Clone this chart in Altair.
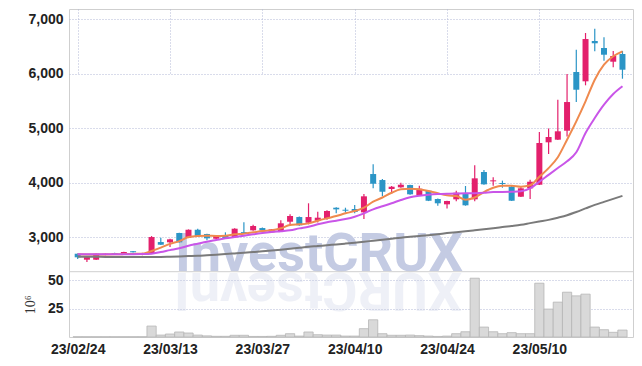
import altair as alt
import pandas as pd

# ---- data ----
tick_labels = ["23/02/24", "23/03/13", "23/03/27", "23/04/10", "23/04/24", "23/05/10"]

opens = [2699, 2589, 2589, 2675, 2712, 2682, 2745, 2675, 2699, 2913,
         2908, 3079, 2992, 3139, 3060, 2974, 3029, 2999, 3095, 3128,
         3170, 3091, 3115, 3286, 3372, 3267, 3304, 3348, 3543, 3506,
         3519, 3458, 4161, 4051, 3886, 3917, 3959, 3776, 3855, 3703,
         3605, 3697, 3794, 3697, 4198, 4027, 3996, 3929, 3745, 3899,
         3965, 4743, 4791, 4956, 6033, 5862, 6602, 6473, 6222, 6363]
highs = [2705, 2645, 2705, 2705, 2718, 2736, 2750, 2715, 3023, 2992,
         2974, 3085, 3145, 3158, 3066, 3035, 3091, 3165, 3275, 3231,
         3180, 3152, 3312, 3422, 3380, 3624, 3470, 3495, 3550, 3543,
         3592, 3794, 4339, 4070, 3940, 4002, 3965, 3947, 3862, 3710,
         3672, 3855, 3941, 4321, 4235, 4100, 4040, 3960, 3930, 4056,
         4932, 4997, 5525, 5995, 6442, 6749, 6828, 6670, 6420, 6420]
lows = [2600, 2546, 2585, 2670, 2685, 2680, 2720, 2670, 2695, 2860,
        2822, 2905, 2985, 3012, 2944, 2970, 2975, 2995, 3070, 3120,
        3122, 3085, 3110, 3225, 3210, 3238, 3270, 3320, 3440, 3455,
        3440, 3336, 3899, 3760, 3805, 3910, 3780, 3770, 3665, 3580,
        3530, 3660, 3580, 3660, 3965, 3947, 3910, 3665, 3740, 3705,
        3960, 4528, 4785, 4850, 5482, 5789, 6413, 6240, 6120, 5910]
closes = [2633, 2638, 2699, 2699, 2690, 2730, 2725, 2712, 3005, 2864,
          2963, 2908, 3139, 3018, 2981, 3029, 2985, 3158, 3075, 3207,
          3128, 3146, 3257, 3391, 3220, 3372, 3360, 3482, 3513, 3488,
          3464, 3752, 3983, 3836, 3928, 3965, 3789, 3892, 3671, 3624,
          3666, 3818, 3587, 4082, 3972, 4045, 3978, 3671, 3899, 4020,
          4730, 4840, 4945, 5482, 5708, 6638, 6560, 6350, 6327, 6075]

ma_short = [2688, 2685, 2683, 2685, 2688, 2692, 2696, 2700, 2750, 2810,
            2880, 2930, 3005, 3025, 3030, 3025, 3029, 3055, 3067, 3091,
            3115, 3128, 3165, 3225, 3238, 3256, 3304, 3348, 3390, 3440,
            3482, 3543, 3653, 3730, 3818, 3880, 3892, 3880, 3849, 3807,
            3770, 3758, 3690, 3730, 3831, 3910, 3947, 3947, 3929, 3954,
            4112, 4270, 4470, 4791, 5128, 5495, 5892, 6167, 6321, 6413]
ma_mid = [2688, 2688, 2688, 2690, 2690, 2690, 2690, 2692, 2699, 2730,
          2765, 2798, 2846, 2883, 2919, 2950, 2981, 3005, 3029, 3055,
          3078, 3097, 3112, 3128, 3164, 3194, 3238, 3275, 3304, 3335,
          3378, 3440, 3513, 3570, 3624, 3684, 3734, 3763, 3782, 3794,
          3800, 3803, 3807, 3810, 3818, 3831, 3831, 3835, 3845, 3899,
          4020, 4146, 4271, 4394, 4560, 4914, 5189, 5433, 5629, 5771]
ma_long = [2645, 2643, 2642, 2640, 2640, 2639, 2638, 2638, 2638, 2640,
           2645, 2650, 2655, 2660, 2670, 2680, 2692, 2705, 2718, 2730,
           2742, 2757, 2773, 2790, 2808, 2826, 2840, 2855, 2870, 2885,
           2900, 2918, 2938, 2957, 2975, 2992, 3010, 3025, 3040, 3058,
           3078, 3095, 3110, 3128, 3147, 3168, 3188, 3208, 3230, 3260,
           3290, 3320, 3360, 3405, 3465, 3530, 3595, 3650, 3705, 3760]

volume = [0.2, 0.2, 0.2, 0.2, 0.2, 0.2, 0.2, 0.2, 9.6, 1.7,
          2.6, 4.4, 3.5, 1.7, 1.0, 0.6, 0.6, 1.5, 1.5, 0.5,
          0.5, 0.6, 1.5, 2.9, 0.8, 4.4, 2.0, 1.7, 1.7, 0.8,
          0.8, 7.3, 15.1, 2.9, 1.5, 1.5, 1.7, 1.2, 0.8, 0.5,
          0.8, 2.9, 4.6, 51.6, 8.7, 4.6, 2.9, 3.8, 2.9, 2.9,
          47.2, 24.5, 30.6, 39.3, 36.1, 37.6, 8.7, 6.4, 4.1, 6.1]

series_names = ["MA short", "MA mid", "MA long"]
series_colors = ["#ef8a4e", "#c955e8", "#7a7a7a"]
up_color = "#e3206c"
down_color = "#2b95c6"

n = len(opens)
idx = list(range(n))
df = pd.DataFrame({"i": idx, "open": opens, "high": highs, "low": lows,
                   "close": closes, "vol": volume})
df["dir"] = ["up" if c >= o else "down" for o, c in zip(opens, closes)]
df["i0"] = df["i"] - 0.5
df["i1"] = df["i"] + 0.5

ma = pd.DataFrame({
    "i": idx * 3,
    "v": ma_short + ma_mid + ma_long,
    "s": [series_names[0]] * n + [series_names[1]] * n + [series_names[2]] * n,
})

W, H = 564, 328
PRICE_H = 262.7
FONT = "Liberation Sans"
GRID = "#b3b9d6"
DASH = [1, 2]

xscale = alt.Scale(domain=[-0.4, 59.6], nice=False, zero=False)
pscale = alt.Scale(domain=[2369, 7189], range=[PRICE_H, 0], nice=False, zero=False)
vscale = alt.Scale(domain=[0, 57.3], range=[H, PRICE_H], nice=False, zero=False)

label_js = "[" + ",".join("'" + t + "'" for t in tick_labels) + "]"
x_axis = alt.Axis(values=[0, 10, 20, 30, 40, 50], labelExpr=label_js + "[round(datum.value/10)]",
                  grid=True, gridDash=DASH, gridColor=GRID, domain=False, ticks=False,
                  labelFont=FONT, labelFontSize=14, labelFontWeight="bold", labelColor="#222",
                  labelPadding=5, title=None, labelFlush=False)
p_axis = alt.Axis(orient="left", values=[3000, 4000, 5000, 6000, 7000],
                  labelExpr="format(datum.value, ',')",
                  grid=True, gridDash=DASH, gridColor=GRID, domain=False, ticks=False,
                  labelFont=FONT, labelFontSize=14, labelFontWeight="bold", labelColor="#222",
                  labelPadding=6, title=None)
v_axis = alt.Axis(orient="left", values=[25, 50], grid=True, gridDash=DASH, gridColor=GRID,
                  domain=False, ticks=False, labelFont=FONT, labelFontSize=14,
                  labelFontWeight="bold", labelColor="#222", labelPadding=6,
                  title="10⁶", titleFont="Liberation Serif", titleFontSize=14,
                  titleFontWeight="normal", titleColor="#333", titlePadding=10)

base = alt.Chart(df)

watermark = alt.Chart(df).mark_text(text="InvestCRUX", font="Roboto", fontWeight="bold",
                                    fontSize=54, align="left", baseline="alphabetic",
                                    color="#c4cbe3").encode(
    x=alt.value(106), y=alt.value(262)).transform_filter("datum.i == 0")
reflection = alt.Chart(df).mark_text(text="XURCtsevnI", font="Roboto", fontWeight="bold",
                                     fontSize=54, align="left", baseline="alphabetic",
                                     angle=180, color="#c4cbe3", opacity=0.28).encode(
    x=alt.value(393), y=alt.value(264)).transform_filter("datum.i == 0")

color_scale = alt.Scale(domain=["up", "down"], range=[up_color, down_color])

wicks = base.mark_rule(strokeWidth=1.2).encode(
    x=alt.X("i:Q", scale=xscale, axis=x_axis),
    y=alt.Y("low:Q", scale=pscale, axis=p_axis),
    y2="high:Q",
    color=alt.Color("dir:N", scale=color_scale, legend=None),
)
bodies = base.mark_bar(size=6).encode(
    x=alt.X("i:Q", scale=xscale, axis=x_axis),
    y=alt.Y("open:Q", scale=pscale, axis=p_axis),
    y2="close:Q",
    color=alt.Color("dir:N", scale=color_scale, legend=None),
)
candles = alt.layer(wicks, bodies)

lines = alt.Chart(ma).mark_line(strokeWidth=2, interpolate="monotone").encode(
    x=alt.X("i:Q", scale=xscale, axis=x_axis),
    y=alt.Y("v:Q", scale=pscale, axis=p_axis),
    color=alt.Color("s:N", scale=alt.Scale(domain=series_names, range=series_colors), legend=None),
    order=alt.Order("i:Q"),
    detail="s:N",
)

price = alt.layer(candles, lines).resolve_scale(color="independent")

vol = base.mark_bar(color="#d9d9d9", stroke="#b5b5b5", strokeWidth=0.8).encode(
    x=alt.X("i0:Q", scale=xscale, axis=x_axis),
    x2="i1:Q",
    y=alt.Y("vol:Q", scale=vscale, axis=v_axis),
    y2=alt.Y2(datum=0),
)

sep = alt.Chart(df).mark_rule(color="#cfcfcf", strokeWidth=1).encode(
    x=alt.value(0), x2=alt.value(W), y=alt.value(PRICE_H)).transform_filter("datum.i == 0")

chart = alt.layer(watermark, reflection, vol, price, sep).resolve_scale(
    y="independent", color="independent").properties(
    width=W, height=H,
    autosize=alt.AutoSizeParams(type="none"),
    padding={"left": 61, "top": 1, "right": 1, "bottom": 21},
).configure_view(stroke="#cfcfcf", strokeWidth=1)

chart.save("out.html", embed_options={"renderer": "svg", "actions": False})
